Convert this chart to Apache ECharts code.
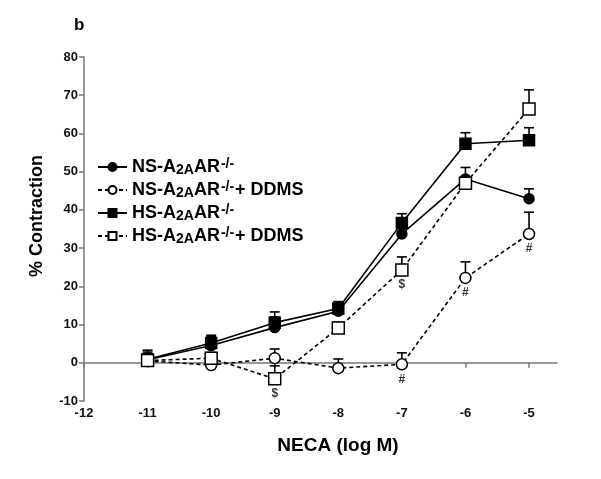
<!DOCTYPE html>
<html>
<head>
<meta charset="utf-8">
<script src="https://cdn.jsdelivr.net/npm/echarts@6/dist/echarts.min.js"></script>
<style>html,body{margin:0;padding:0;background:#fff}#c{width:601px;height:479px}</style>
</head>
<body>
<div id="c"></div>
<script>
var doses = [-11, -10, -9, -8, -7, -6, -5];
var xTicks = [-12, -11, -10, -9, -8, -7, -6, -5];
var seriesNames = ['NS-A2AAR-/-', 'NS-A2AAR-/- + DDMS', 'HS-A2AAR-/-', 'HS-A2AAR-/- + DDMS'];
var nsMean   = [0.8, 4.5, 9.2, 13.5, 33.7, 48.1, 42.9];
var nsErr    = [2.0, 2.3, 2.8, 2.0, 1.8, 3.0, 2.6];
var nsDMean  = [0.5, -0.6, 1.2, -1.4, -0.4, 22.2, 33.7];
var nsDErr   = [1.5, 1.5, 2.4, 2.4, 3.0, 4.2, 5.7];
var hsMean   = [0.9, 5.2, 10.5, 14.2, 36.6, 57.3, 58.2];
var hsErr    = [2.4, 2.0, 2.8, 1.8, 2.4, 2.9, 3.3];
var hsDMean  = [0.6, 1.2, -4.2, 9.1, 24.3, 47.0, 66.4];
var hsDErr   = [1.5, 1.5, 3.4, 1.5, 3.4, 1.5, 5.0];
var annNS = ['', '', '', '', '#', '#', '#'];
var annHS = ['', '', '$', '', '$', '', ''];

var FONT = '"Liberation Sans", Arial, sans-serif';
var chart = echarts.init(document.getElementById('c'), null, {renderer: 'canvas'});

function pairs(m) { return doses.map(function (d, i) { return [d, m[i]]; }); }
function errData(m, e) { return doses.map(function (d, i) { return [d, m[i], m[i] + e[i]]; }); }

function errSeries(m, e) {
  return {
    type: 'custom', silent: true, z: 1,
    data: errData(m, e),
    renderItem: function (params, api) {
      var p0 = api.coord([api.value(0), api.value(1)]);
      var p1 = api.coord([api.value(0), api.value(2)]);
      var w = 5;
      return {
        type: 'group',
        children: [
          {type: 'line', shape: {x1: p0[0], y1: p0[1], x2: p1[0], y2: p1[1]}, style: {stroke: '#000', lineWidth: 1.6}},
          {type: 'line', shape: {x1: p1[0] - w, y1: p1[1], x2: p1[0] + w, y2: p1[1]}, style: {stroke: '#000', lineWidth: 1.6}}
        ]
      };
    }
  };
}

function lineSeries(name, m, symbol, filled, dashed, size) {
  return {
    name: name, type: 'line', data: pairs(m), z: 3,
    symbol: symbol, symbolSize: size, showAllSymbol: true,
    lineStyle: {color: '#000', width: 1.6, type: dashed ? [4, 3] : 'solid'},
    itemStyle: {color: filled ? '#000' : '#fff', borderColor: '#000', borderWidth: 1.5, opacity: 1},
    emphasis: {disabled: true}
  };
}

function annSeries(m, ann) {
  return {
    type: 'scatter', silent: true, symbolSize: 0, z: 4,
    data: doses.map(function (d, i) { return {value: [d, m[i]], label: {formatter: ann[i]}}; }).filter(function (o, i) { return ann[i] !== ''; }),
    label: {show: true, position: 'inside', offset: [0, 15], color: '#000', fontFamily: FONT, fontWeight: 'bold', fontSize: 12}
  };
}

var legendRich = {
  'NS-A2AAR-/-': 'NS-A{sub|2A}AR{sup|-/-}',
  'NS-A2AAR-/- + DDMS': 'NS-A{sub|2A}AR{sup|-/-}+ DDMS',
  'HS-A2AAR-/-': 'HS-A{sub|2A}AR{sup|-/-}',
  'HS-A2AAR-/- + DDMS': 'HS-A{sub|2A}AR{sup|-/-}+ DDMS'
};

var option = {
  animation: false,
  backgroundColor: '#fff',
  graphic: [
    {type: 'text', left: 74, top: 17, style: {text: 'b', font: 'bold 17px ' + FONT, fill: '#000'}},
    {type: 'text', x: 338, y: 446, style: {text: 'NECA (log M)', font: 'bold 19px ' + FONT, fill: '#000', textAlign: 'center', textVerticalAlign: 'middle'}},
    {type: 'text', x: 37, y: 216, rotation: Math.PI / 2, style: {text: '% Contraction', font: 'bold 18px ' + FONT, fill: '#000', textAlign: 'center', textVerticalAlign: 'middle'}}
  ],
  grid: {left: 84, top: 57, right: 44, bottom: 78, containLabel: false},
  legend: {
    orient: 'vertical', left: 97, top: 157, padding: 0, itemGap: 3, itemWidth: 29, itemHeight: 10,
    data: seriesNames, selectedMode: false,
    formatter: function (n) { return legendRich[n]; },
    textStyle: {
      color: '#000', fontFamily: FONT, fontWeight: 'bold', fontSize: 18, lineHeight: 20,
      rich: {
        sub: {fontFamily: FONT, fontWeight: 'bold', fontSize: 14, verticalAlign: 'bottom', lineHeight: 13},
        sup: {fontFamily: FONT, fontWeight: 'bold', fontSize: 14, verticalAlign: 'top', lineHeight: 12, padding: [0, 1, 0, 1]}
      }
    }
  },
  xAxis: {
    type: 'value', min: -12, max: -4.56,
    splitLine: {show: false},
    axisLine: {lineStyle: {color: '#777', width: 1.5}},
    axisTick: {show: true, length: 5, lineStyle: {color: '#777', width: 1.5}, customValues: xTicks},
    axisLabel: {customValues: xTicks, color: '#111', fontFamily: FONT, fontWeight: 'bold', fontSize: 13, margin: 6}
  },
  yAxis: {
    type: 'value', min: -10, max: 80, interval: 10,
    splitLine: {show: false},
    axisLine: {show: true, lineStyle: {color: '#777', width: 1.5}},
    axisTick: {show: true, length: 5, lineStyle: {color: '#777', width: 1.5}},
    axisLabel: {color: '#111', fontFamily: FONT, fontWeight: 'bold', fontSize: 13, margin: 6}
  },
  series: [
    errSeries(nsMean, nsErr), errSeries(nsDMean, nsDErr), errSeries(hsMean, hsErr), errSeries(hsDMean, hsDErr),
    lineSeries(seriesNames[0], nsMean, 'circle', true, false, 10),
    lineSeries(seriesNames[1], nsDMean, 'circle', false, true, 11),
    lineSeries(seriesNames[2], hsMean, 'rect', true, false, 11),
    lineSeries(seriesNames[3], hsDMean, 'rect', false, true, 12),
    annSeries(nsDMean, annNS), annSeries(hsDMean, annHS)
  ]
};
chart.setOption(option);
</script>
</body>
</html>
